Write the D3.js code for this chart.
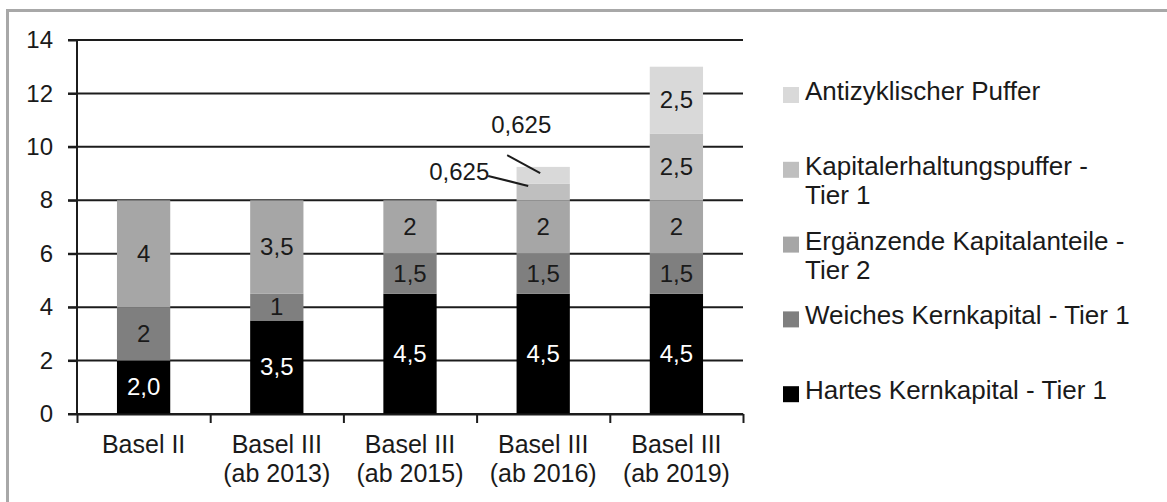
<!DOCTYPE html>
<html>
<head>
<meta charset="utf-8">
<script src="https://cdn.jsdelivr.net/npm/d3@7"></script>
<style>
  body { margin: 0; background: #fff; }
  svg { display: block; font-family: "Liberation Sans", Arial, sans-serif; }
</style>
</head>
<body>
<svg id="canvas"></svg>
<script>
// categories and series (stacked bottom -> top)
let categories = [
  ["Basel II"],
  ["Basel III", "(ab 2013)"],
  ["Basel III", "(ab 2015)"],
  ["Basel III", "(ab 2016)"],
  ["Basel III", "(ab 2019)"]
];
let hartes = [2.0, 3.5, 4.5, 4.5, 4.5];
let weiches = [2, 1, 1.5, 1.5, 1.5];
let ergaenzend = [4, 3.5, 2, 2, 2];
let erhaltung = [0, 0, 0, 0.625, 2.5];
let antizyklisch = [0, 0, 0, 0.625, 2.5];

let legendLines = [
  ["Hartes Kernkapital - Tier 1"],
  ["Weiches Kernkapital - Tier 1"],
  ["Ergänzende Kapitalanteile -", "Tier 2"],
  ["Kapitalerhaltungspuffer -", "Tier 1"],
  ["Antizyklischer Puffer"]
];
let colors = ["#000000", "#7f7f7f", "#a6a6a6", "#bfbfbf", "#d9d9d9"];
let yTicks = [0, 2, 4, 6, 8, 10, 12, 14];

let width = 1167;
let height = 502;
let marginLeft = 77;
let marginTop = 40;
let plotW = 666;
let plotH = 374;

let canvas = d3.select("#canvas").attr("width", width).attr("height", height);

// outer frame (top and left edge visible)
canvas.append("path")
  .attr("d", "M7.5," + height + "V10.5H" + width)
  .attr("fill", "none")
  .attr("stroke", "#a8a8a8")
  .attr("stroke-width", 3);

let g = canvas.append("g").attr("transform", "translate(" + marginLeft + "," + marginTop + ")");

let keys = [0, 1, 2, 3, 4];
let allSeries = [hartes, weiches, ergaenzend, erhaltung, antizyklisch];
let rows = categories.map((c, i) => {
  let r = { idx: i };
  keys.forEach((k) => { r[k] = allSeries[k][i]; });
  return r;
});
let stacked = d3.stack().keys(keys)(rows);

let xScale = d3.scaleBand()
  .domain(d3.range(categories.length))
  .range([0, plotW])
  .paddingInner(0.6)
  .paddingOuter(0.3);
let yScale = d3.scaleLinear().domain([0, 14]).range([plotH, 0]);

// gridlines
g.append("g")
  .selectAll("line")
  .data(yTicks)
  .enter()
  .append("line")
  .attr("x1", -9)
  .attr("x2", plotW)
  .attr("y1", (d) => yScale(d))
  .attr("y2", (d) => yScale(d))
  .attr("stroke", "#1c1c1c")
  .attr("stroke-width", 2);

// bars
g.append("g")
  .selectAll("g")
  .data(stacked)
  .enter()
  .append("g")
  .attr("fill", (s) => colors[s.key])
  .selectAll("rect")
  .data((s) => s)
  .enter()
  .append("rect")
  .attr("x", (d) => xScale(d.data.idx))
  .attr("width", xScale.bandwidth())
  .attr("y", (d) => yScale(d[1]))
  .attr("height", (d) => yScale(d[0]) - yScale(d[1]));

// y axis
let yAxis = d3.axisLeft(yScale).tickValues(yTicks).tickSize(9).tickPadding(15);
let yG = g.append("g").call(yAxis);
yG.select(".domain").attr("stroke", "#1c1c1c").attr("stroke-width", 2).attr("d", "M0,0V" + plotH);
yG.selectAll(".tick line").attr("stroke", "#1c1c1c").attr("stroke-width", 2);
yG.selectAll(".tick text")
  .attr("font-size", 24)
  .attr("fill", "#1a1a1a")
  .attr("font-family", "Liberation Sans, Arial, sans-serif");

// x axis with ticks at category boundaries
let xEdge = d3.scaleLinear().domain([0, categories.length]).range([0, plotW]);
let xAxis = d3.axisBottom(xEdge).ticks(categories.length).tickFormat("").tickSize(9).tickSizeOuter(0);
let xG = g.append("g").attr("transform", "translate(0," + plotH + ")").call(xAxis);
xG.select(".domain").attr("stroke", "#1c1c1c").attr("stroke-width", 2);
xG.selectAll(".tick line").attr("stroke", "#1c1c1c").attr("stroke-width", 2);

// category labels
let catText = g.append("g")
  .selectAll("text")
  .data(categories)
  .enter()
  .append("text")
  .attr("text-anchor", "middle")
  .attr("font-size", 25)
  .attr("fill", "#1a1a1a")
  .attr("x", (d, i) => xScale(i) + xScale.bandwidth() / 2)
  .attr("y", plotH + 39);
catText.selectAll("tspan")
  .data((d) => d)
  .enter()
  .append("tspan")
  .attr("x", function () { return d3.select(this.parentNode).attr("x"); })
  .attr("dy", (d, i) => (i === 0 ? 0 : 29))
  .text((d) => d);

let fmt = (k, v) => (k === 0 ? v.toFixed(1) : String(v)).replace(".", ",");

// value labels inside segments (small ones get callouts)
let labelData = [];
stacked.forEach((s) => {
  s.forEach((d) => {
    let v = d[1] - d[0];
    if (v <= 0) return;
    labelData.push({ key: s.key, v: v, idx: d.data.idx, mid: (d[0] + d[1]) / 2 });
  });
});

g.append("g")
  .selectAll("text")
  .data(labelData.filter((d) => d.v >= 1))
  .enter()
  .append("text")
  .attr("text-anchor", "middle")
  .attr("font-size", 24)
  .attr("fill", (d) => (d.key === 0 ? "#ffffff" : "#1a1a1a"))
  .attr("x", (d) => xScale(d.idx) + xScale.bandwidth() / 2)
  .attr("y", (d) => yScale(d.mid) + 8)
  .text((d) => fmt(d.key, d.v));

// callouts for the thin 2016 buffers
let callouts = labelData.filter((d) => d.v < 1);
let calloutG = g.append("g")
  .selectAll("g")
  .data(callouts)
  .enter()
  .append("g")
  .attr("transform", (d) =>
    "translate(" + (xScale(d.idx) + xScale.bandwidth() / 2) + "," + yScale(d.mid) + ")");
calloutG.append("line")
  .attr("x1", (d) => (d.key === 4 ? -36 : -55))
  .attr("y1", (d) => (d.key === 4 ? -20 : -16))
  .attr("x2", (d) => (d.key === 4 ? -3 : -15))
  .attr("y2", (d) => (d.key === 4 ? -2 : -6))
  .attr("stroke", "#1c1c1c")
  .attr("stroke-width", 2);
calloutG.append("text")
  .attr("text-anchor", "middle")
  .attr("font-size", 24)
  .attr("fill", "#1a1a1a")
  .attr("x", (d) => (d.key === 4 ? -22 : -84))
  .attr("y", (d) => (d.key === 4 ? -42 : -12))
  .text((d) => fmt(d.key, d.v));

// legend, top item = top of stack
let legend = canvas.append("g");
let legendItems = legend.selectAll("g")
  .data(keys.slice().reverse())
  .enter()
  .append("g")
  .attr("transform", (k, i) => "translate(783," + (100 + i * 74.8) + ")");
legendItems.append("rect")
  .attr("x", 0)
  .attr("y", -13)
  .attr("width", 16)
  .attr("height", 16)
  .attr("fill", (k) => colors[k]);
let legendText = legendItems.append("text")
  .attr("x", 22)
  .attr("y", 0)
  .attr("font-size", 26)
  .attr("fill", "#1a1a1a");
legendText.selectAll("tspan")
  .data((k) => legendLines[k])
  .enter()
  .append("tspan")
  .attr("x", 22)
  .attr("dy", (d, i) => (i === 0 ? 0 : 29))
  .text((d) => d);
</script>
</body>
</html>
